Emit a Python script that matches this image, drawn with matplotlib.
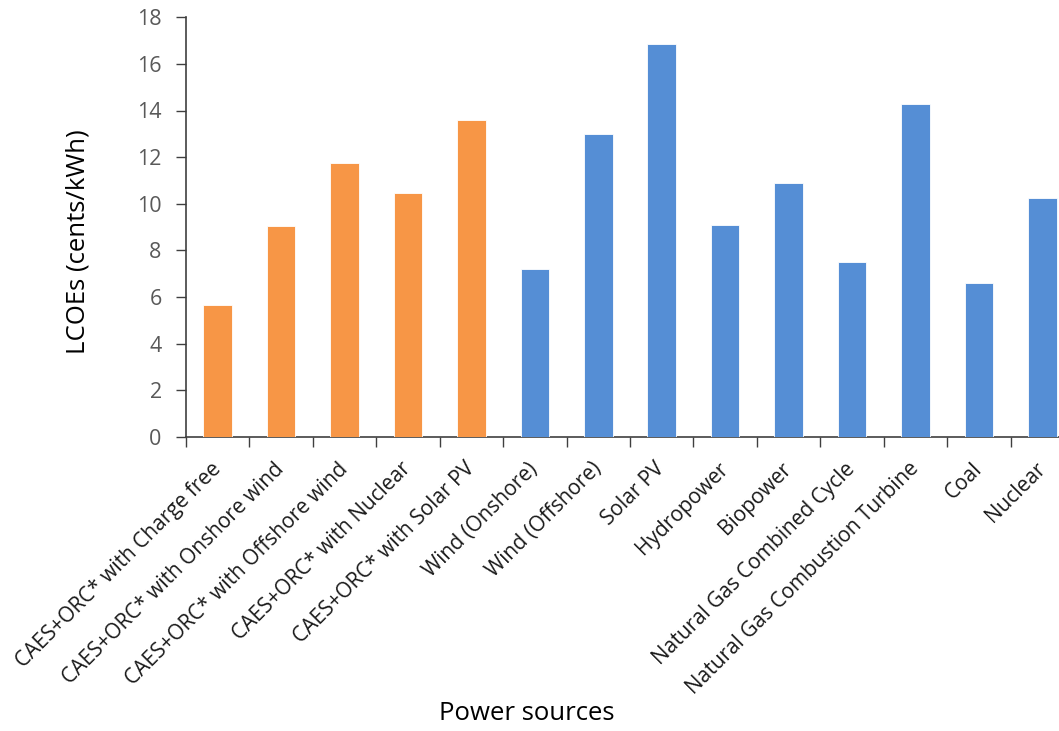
import numpy as np
import matplotlib
matplotlib.use("Agg")
import matplotlib.pyplot as plt
import matplotlib.transforms as mtransforms
from matplotlib.ticker import FixedLocator, MultipleLocator

plt.rcParams['font.family'] = ['Open Sans', 'DejaVu Sans']

# LCOE by power source (cents/kWh)
sources = [
    'CAES+ORC* with Charge free',
    'CAES+ORC* with Onshore wind',
    'CAES+ORC* with Offshore wind',
    'CAES+ORC* with Nuclear',
    'CAES+ORC* with Solar PV',
    'Wind (Onshore)',
    'Wind (Offshore)',
    'Solar PV',
    'Hydropower',
    'Biopower',
    'Natural Gas Combined Cycle',
    'Natural Gas Combustion Turbine',
    'Coal',
    'Nuclear',
]
lcoe = [5.65, 9.03, 11.73, 10.44, 13.6, 7.18, 12.98, 16.84,
        9.08, 10.9, 7.51, 14.28, 6.61, 10.23]
is_caes = [True] * 5 + [False] * 9

ORANGE = '#F79646'
BLUE = '#558ED5'
GREY = '#595959'

W, H = 1059, 731
fig = plt.figure(figsize=(W / 100, H / 100), dpi=100)
ax = fig.add_axes([186 / W, (H - 436.7) / H, 888 / W, 419.4 / H])

x = np.arange(len(sources))
cols = [ORANGE if c else BLUE for c in is_caes]
ax.bar(x, lcoe, width=0.45, color=cols, edgecolor='white', linewidth=0.6, zorder=3)

ax.set_xlim(-0.5, len(sources) - 0.5)
ax.set_ylim(0, 18)
ax.yaxis.set_major_locator(MultipleLocator(2))

# category labels at bar centres, tick marks at the boundaries
ax.set_xticks(x)
ax.set_xticklabels(sources, rotation=45, ha='right', va='center',
                   rotation_mode='anchor', fontsize=15, color='#1a1a1a')
shift = mtransforms.ScaledTranslation(7 / 100, 0, fig.dpi_scale_trans)
for lab in ax.get_xticklabels():
    lab.set_transform(lab.get_transform() + shift)
ax.xaxis.set_minor_locator(FixedLocator(np.arange(-0.5, len(sources), 1.0)))
ax.tick_params(axis='x', which='major', length=0, pad=21)
ax.tick_params(axis='x', which='minor', length=7.5, width=1.0, color='#3f3f3f',
               direction='out')
ax.tick_params(axis='y', length=7.5, width=1.0, color='#3f3f3f', pad=10,
               labelsize=15.5, labelcolor=GREY, direction='out')

for s in ['top', 'right']:
    ax.spines[s].set_visible(False)
for s in ['left', 'bottom']:
    ax.spines[s].set_color('#3f3f3f')
    ax.spines[s].set_linewidth(1.2)

fig.text(78 / W, 1 - 242 / H, 'LCOEs (cents/kWh)', rotation=90,
         ha='center', va='center', fontsize=18.5, color='black')
fig.text(527 / W, 1 - 714 / H, 'Power sources', ha='center', va='center',
         fontsize=18.5, color='black')

fig.savefig('out.png', dpi=100)
